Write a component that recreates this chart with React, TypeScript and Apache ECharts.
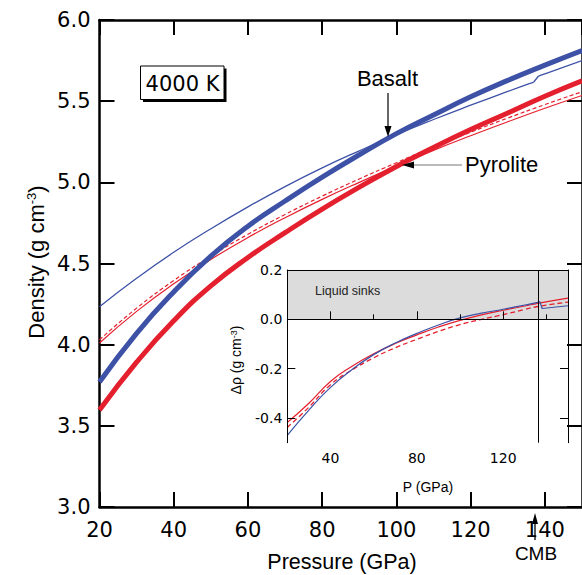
import React, { useEffect, useRef } from "react";
import * as echarts from "echarts";

// ---------- data ----------
// Main panel: density (g/cm^3) vs pressure (GPa) at 4000 K
const pressure = [20, 30, 40, 50, 60, 70, 80, 90, 100, 110, 120, 130, 140, 150];
const basaltLiquid = [3.77, 4.07, 4.325, 4.545, 4.73, 4.885, 5.032, 5.17, 5.3, 5.415, 5.527, 5.628, 5.722, 5.812];
const pyroliteLiquid = [3.597, 3.892, 4.147, 4.362, 4.537, 4.69, 4.835, 4.97, 5.098, 5.215, 5.325, 5.427, 5.53, 5.625];
const pyroliteSolid = [4.01, 4.205, 4.375, 4.525, 4.66, 4.782, 4.895, 5.0, 5.1, 5.197, 5.287, 5.373, 5.456, 5.535];
const pyroliteSolidAlt = [4.03, 4.225, 4.395, 4.545, 4.68, 4.802, 4.915, 5.021, 5.121, 5.219, 5.309, 5.396, 5.479, 5.558];
// basalt solid has a phase-transition step just past the CMB pressure
const basaltSolidP = [20, 30, 40, 50, 60, 70, 80, 90, 100, 110, 120, 130, 136, 137, 138.3, 140, 150];
const basaltSolid = [4.234, 4.409, 4.569, 4.714, 4.849, 4.974, 5.089, 5.194, 5.294, 5.387, 5.475, 5.56, 5.61, 5.618, 5.655, 5.668, 5.75];
const basaltStepStart = 13; // index of the point where the step begins

// Inset: density contrast (liquid - solid)
const insetP = [20, 30, 40, 50, 60, 70, 80, 90, 100, 110, 120, 130, 136, 150];
const dRhoPyrolite = [-0.418, -0.34, -0.252, -0.19, -0.14, -0.098, -0.063, -0.031, -0.004, 0.018, 0.037, 0.054, 0.065, 0.086];
const dRhoPyroliteAlt = [-0.438, -0.356, -0.265, -0.205, -0.156, -0.115, -0.081, -0.049, -0.021, 0.0, 0.019, 0.04, 0.052, 0.07];
const insetBasaltP = [20, 30, 40, 50, 60, 70, 80, 90, 100, 110, 120, 130, 136, 137, 138, 150];
const dRhoBasalt = [-0.47, -0.368, -0.276, -0.203, -0.143, -0.096, -0.057, -0.023, 0.006, 0.025, 0.041, 0.058, 0.069, 0.072, 0.044, 0.055];
const insetStepStart = 13;

const cmbPressure = 136;
const insetXMajor = [40, 80, 120];
const insetXMinor = [60, 100, 140];
const insetYTicks = [-0.4, -0.2, 0, 0.2];
const insetYRightTicks = [-0.4, -0.2];

const BLUE = "#3d52a6";
const RED = "#e5202e";
const TICK_FONT = "DejaVu Sans";
const LABEL_FONT = "'Liberation Sans', Arial, sans-serif";

const zip = (xs: number[], ys: number[]) => xs.map((x, i) => [x, ys[i]]);

function lineSeries(name: string, axis: number, data: number[][], color: string, width: number, dash?: number[], smooth = true, extra: any = {}) {
  return {
    name, type: "line", xAxisIndex: axis, yAxisIndex: axis, data,
    smooth, showSymbol: false, silent: true,
    lineStyle: { color, width, type: dash ?? "solid" },
    ...extra,
  };
}

function buildOption(): any {
  const mainAxisLine = { lineStyle: { color: "#000", width: 2.5 } };
  const mainTick = { inside: true, length: 15, lineStyle: { color: "#000", width: 2 } };
  const insetLine = { lineStyle: { color: "#000", width: 1 } };

  const bs = zip(basaltSolidP, basaltSolid);
  const db = zip(insetBasaltP, dRhoBasalt);

  return {
    animation: false,
    backgroundColor: "#fff",
    grid: [
      { left: 99.5, top: 20, width: 487.5, height: 487 },
      { left: 287.3, top: 270, width: 280.7, height: 172.7 },
    ],
    xAxis: [
      {
        gridIndex: 0, type: "value", position: "bottom", min: 20, max: 150, interval: 20,
        axisLine: mainAxisLine, axisTick: mainTick, splitLine: { show: false },
        axisLabel: { fontSize: 21, fontFamily: TICK_FONT, color: "#000", margin: 12, showMaxLabel: false },
      },
      {
        gridIndex: 0, type: "value", position: "top", min: 20, max: 150, interval: 20,
        axisLine: mainAxisLine, axisTick: mainTick, splitLine: { show: false },
        axisLabel: { show: false },
      },
      {
        gridIndex: 1, type: "value", position: "bottom", min: 20, max: 150, z: 5,
        axisLine: insetLine, splitLine: { show: false },
        axisTick: { inside: true, length: 8, customValues: insetXMajor, lineStyle: { color: "#000", width: 1 } },
        axisLabel: { customValues: insetXMajor, fontSize: 14, fontFamily: TICK_FONT, color: "#000", margin: 8 },
      },
      {
        gridIndex: 1, type: "value", position: "bottom", min: 20, max: 150, z: 5,
        axisLine: { show: false }, splitLine: { show: false },
        axisTick: { inside: true, length: 5, customValues: insetXMinor, lineStyle: { color: "#000", width: 1 } },
        axisLabel: { show: false },
      },
      {
        gridIndex: 1, type: "value", position: "top", min: 20, max: 150, z: 5,
        axisLine: insetLine, splitLine: { show: false }, axisTick: { show: false }, axisLabel: { show: false },
      },
    ],
    yAxis: [
      {
        gridIndex: 0, type: "value", position: "left", min: 3, max: 6, interval: 0.5,
        axisLine: mainAxisLine, axisTick: mainTick, splitLine: { show: false },
        axisLabel: {
          fontSize: 21, fontFamily: TICK_FONT, color: "#000", margin: 9,
          formatter: (v: number) => v.toFixed(1),
        },
      },
      {
        gridIndex: 0, type: "value", position: "right", min: 3, max: 6, interval: 0.5,
        axisLine: mainAxisLine, axisTick: mainTick, splitLine: { show: false }, axisLabel: { show: false },
      },
      {
        gridIndex: 1, type: "value", position: "left", min: -0.5, max: 0.2, z: 5,
        axisLine: insetLine, splitLine: { show: false },
        axisTick: { inside: true, length: 8, customValues: insetYTicks, lineStyle: { color: "#000", width: 1 } },
        axisLabel: {
          customValues: insetYTicks, fontSize: 14, fontFamily: TICK_FONT, color: "#000", margin: 5,
          formatter: (v: number) => v.toFixed(1),
        },
      },
      {
        gridIndex: 1, type: "value", position: "right", min: -0.5, max: 0.2, z: 5,
        axisLine: insetLine, splitLine: { show: false },
        axisTick: { inside: true, length: 8, customValues: insetYRightTicks, lineStyle: { color: "#000", width: 1 } },
        axisLabel: { show: false },
      },
    ],
    series: [
      // main panel: thin (solid) lines first
      lineSeries("Basalt solid", 0, bs.slice(0, basaltStepStart + 1), BLUE, 1.3),
      lineSeries("Basalt solid step", 0, bs.slice(basaltStepStart, basaltStepStart + 2), BLUE, 1.3, undefined, false),
      lineSeries("Basalt solid high", 0, bs.slice(basaltStepStart + 1), BLUE, 1.3),
      lineSeries("Pyrolite solid", 0, zip(pressure, pyroliteSolid), RED, 1.2),
      lineSeries("Pyrolite solid (alt)", 0, zip(pressure, pyroliteSolidAlt), RED, 1.2, [4, 2.5]),
      lineSeries("Basalt liquid", 0, zip(pressure, basaltLiquid), BLUE, 5),
      lineSeries("Pyrolite liquid", 0, zip(pressure, pyroliteLiquid), RED, 5),
      // inset
      lineSeries("Δρ pyrolite (alt)", 2, zip(insetP, dRhoPyroliteAlt), RED, 1.3, [5, 3], true, {
        markArea: {
          silent: true,
          itemStyle: { color: "#dcdcdc" },
          data: [[{ yAxis: 0 }, { yAxis: 0.2 }]],
        },
        markLine: {
          silent: true, symbol: ["none", "none"], label: { show: false },
          lineStyle: { color: "#000", width: 1, type: "solid" },
          data: [{ yAxis: 0 }, { xAxis: cmbPressure }],
        },
      }),
      lineSeries("Δρ pyrolite", 2, zip(insetP, dRhoPyrolite), RED, 1.2),
      lineSeries("Δρ basalt", 2, db.slice(0, insetStepStart + 1), BLUE, 1.2),
      lineSeries("Δρ basalt step", 2, db.slice(insetStepStart), BLUE, 1.2, undefined, false),
    ],
    graphic: [
      // 4000 K label box
      { type: "rect", shape: { x: 143, y: 68.5, width: 83.5, height: 33.5 }, style: { fill: "#000" }, z: 10 },
      { type: "rect", shape: { x: 140.5, y: 66, width: 83.5, height: 33.5 }, style: { fill: "#fff", stroke: "#000", lineWidth: 1 }, z: 11 },
      {
        type: "text", x: 182.5, y: 83.5, z: 12,
        style: { text: "4000 K", fontSize: 21, fontFamily: TICK_FONT, fill: "#000", align: "center", verticalAlign: "middle" },
      },
      // Basalt annotation
      {
        type: "text", x: 387.5, y: 78, z: 12,
        style: { text: "Basalt", fontSize: 22, fontFamily: LABEL_FONT, fill: "#000", align: "center", verticalAlign: "middle" },
      },
      { type: "line", shape: { x1: 388, y1: 93, x2: 388, y2: 128 }, style: { stroke: "#000", lineWidth: 1.2 }, z: 12 },
      { type: "polygon", shape: { points: [[384.5, 126], [391.5, 126], [388, 137]] }, style: { fill: "#000" }, z: 12 },
      // Pyrolite annotation
      {
        type: "text", x: 465, y: 164, z: 12,
        style: { text: "Pyrolite", fontSize: 22, fontFamily: LABEL_FONT, fill: "#000", align: "left", verticalAlign: "middle" },
      },
      { type: "line", shape: { x1: 462, y1: 165, x2: 413, y2: 165 }, style: { stroke: "#777", lineWidth: 1.2 }, z: 12 },
      { type: "polygon", shape: { points: [[414, 161.5], [414, 168.5], [402, 165]] }, style: { fill: "#000" }, z: 12 },
      // CMB annotation
      { type: "line", shape: { x1: 535, y1: 540, x2: 535, y2: 522 }, style: { stroke: "#000", lineWidth: 1.3 }, z: 12 },
      { type: "polygon", shape: { points: [[532, 524], [538, 524], [535, 513]] }, style: { fill: "#000" }, z: 12 },
      {
        type: "text", x: 536, y: 553, z: 12,
        style: { text: "CMB", fontSize: 19, fontFamily: LABEL_FONT, fill: "#000", align: "center", verticalAlign: "middle" },
      },
      // Main axis titles
      {
        type: "text", x: 342, y: 562, z: 12,
        style: { text: "Pressure (GPa)", fontSize: 21.5, fontFamily: LABEL_FONT, fill: "#000", align: "center", verticalAlign: "middle" },
      },
      {
        type: "text", x: 36, y: 262, rotation: Math.PI / 2, z: 12,
        style: {
          text: "{n|Density (g cm}{s|-3}{n|)}",
          align: "center", verticalAlign: "middle", fill: "#000",
          rich: {
            n: { fontSize: 22, fontFamily: LABEL_FONT, fill: "#000" },
            s: { fontSize: 13, fontFamily: LABEL_FONT, fill: "#000", verticalAlign: "top" },
          },
        },
      },
      // Inset titles
      {
        type: "text", x: 428, y: 487, z: 12,
        style: { text: "P (GPa)", fontSize: 14, fontFamily: LABEL_FONT, fill: "#000", align: "center", verticalAlign: "middle" },
      },
      {
        type: "text", x: 236, y: 360, rotation: Math.PI / 2, z: 12,
        style: {
          text: "{n|Δρ (g cm}{s|-3}{n|)}",
          align: "center", verticalAlign: "middle", fill: "#000",
          rich: {
            n: { fontSize: 14, fontFamily: LABEL_FONT, fill: "#000" },
            s: { fontSize: 9, fontFamily: LABEL_FONT, fill: "#000", verticalAlign: "top" },
          },
        },
      },
      {
        type: "text", x: 315, y: 291, z: 12,
        style: { text: "Liquid sinks", fontSize: 12.5, fontFamily: LABEL_FONT, fill: "#222", align: "left", verticalAlign: "middle" },
      },
    ],
  };
}

export default function App() {
  const ref = useRef<HTMLDivElement>(null);
  useEffect(() => {
    if (!ref.current) return;
    const chart = echarts.init(ref.current, null, { renderer: "svg" });
    chart.setOption(buildOption());
    return () => chart.dispose();
  }, []);
  return (
    <div
      ref={ref}
      style={{ position: "absolute", left: 0, top: 0, width: 582, height: 575, background: "#fff" }}
    />
  );
}
